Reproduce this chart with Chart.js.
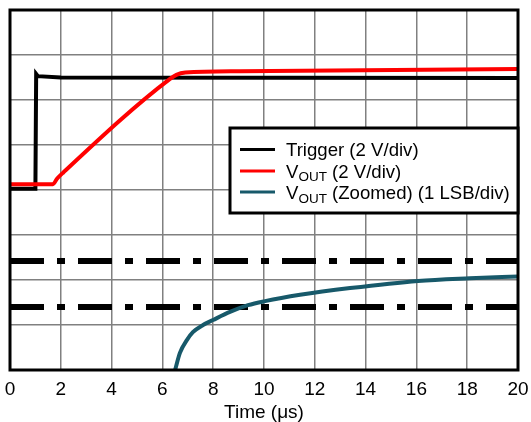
<!DOCTYPE html>
<html>
<head>
<meta charset="utf-8">
<script src="https://cdn.jsdelivr.net/npm/chart.js@4.4.1/dist/chart.umd.min.js"></script>
<style>
  html, body { margin: 0; padding: 0; background: #fff; }
  #wrap { width: 531px; height: 422px; }
</style>
</head>
<body>
<div id="wrap"><canvas id="myChart"></canvas></div>
<script>
// time axis (us) and its tick labels
const xTicks = [0, 2, 4, 6, 8, 10, 12, 14, 16, 18, 20];

// Trigger (2 V/div) - values in divisions from the bottom
const triggerTime = [0, 1.0, 1.03, 1.1, 2.0, 20];
const triggerDiv = [4.03, 4.03, 6.58, 6.53, 6.5, 6.49];

// VOUT (2 V/div)
const voutTime = [0, 1.69, 1.85, 2.1, 6.3, 6.55, 6.9, 9.06, 20];
const voutDiv = [4.13, 4.13, 4.25, 4.39, 6.47, 6.56, 6.61, 6.64, 6.69];

// VOUT zoomed (1 LSB/div)
const zoomTime = [6.5, 6.69, 6.97, 7.2, 7.6, 7.99, 8.66, 9.37, 10.04, 11.42, 13.39, 16.06, 18.1, 20];
const zoomDiv = [0, 0.38, 0.67, 0.84, 1.0, 1.11, 1.29, 1.44, 1.53, 1.67, 1.82, 1.98, 2.04, 2.08];

// dash-dot LSB boundary levels
const limitLevels = [2.42, 1.4];

const legendItems = [
    { main: 'Trigger (2 V/div)', color: '#000000' },
    { main: 'V', sub: 'OUT', rest: ' (2 V/div)', color: '#ff0000' },
    { main: 'V', sub: 'OUT', rest: ' (Zoomed) (1 LSB/div)', color: '#17596a' }
];

const FONT = '"Liberation Sans", Arial, sans-serif';

function pts(xs, ys) {
    return xs.map((x, i) => ({ x: x, y: ys[i] }));
}

const datasets = [
    {
        data: pts(triggerTime, triggerDiv),
        borderColor: '#000000',
        borderWidth: 4,
        order: 3
    },
    {
        data: pts(voutTime, voutDiv),
        borderColor: '#ff0000',
        borderWidth: 4,
        cubicInterpolationMode: 'monotone',
        order: 1
    },
    {
        data: pts(zoomTime, zoomDiv),
        borderColor: '#17596a',
        borderWidth: 4,
        cubicInterpolationMode: 'monotone',
        order: 2
    }
];
limitLevels.forEach(level => {
    datasets.push({
        data: pts([0, 20], [level, level]),
        borderColor: '#000000',
        borderWidth: 6,
        borderDash: [34, 13, 8, 13],
        order: 4
    });
});

const frameAndLegend = {
    id: 'frameAndLegend',
    afterDraw(chart) {
        const ctx = chart.ctx;
        const a = chart.chartArea;
        ctx.save();
        // plot border
        ctx.strokeStyle = '#000';
        ctx.lineWidth = 3;
        ctx.strokeRect(a.left, a.top, a.right - a.left, a.bottom - a.top);

        // legend box
        const bx = 230, by = 128, bw = a.right - 230, bh = 85;
        ctx.fillStyle = '#fff';
        ctx.fillRect(bx, by, bw, bh);
        ctx.lineWidth = 3;
        ctx.strokeRect(bx, by, bw, bh);

        const lineY = [149.5, 171, 192];
        const baseY = [156, 177.5, 199];
        legendItems.forEach((item, i) => {
            ctx.strokeStyle = item.color;
            ctx.lineWidth = 3;
            ctx.beginPath();
            ctx.moveTo(240, lineY[i]);
            ctx.lineTo(275, lineY[i]);
            ctx.stroke();

            ctx.fillStyle = '#000';
            ctx.textBaseline = 'alphabetic';
            ctx.textAlign = 'left';
            let x = 286;
            ctx.font = '18.6px ' + FONT;
            ctx.fillText(item.main, x, baseY[i]);
            x += ctx.measureText(item.main).width;
            if (item.sub) {
                ctx.font = '13.5px ' + FONT;
                ctx.fillText(item.sub, x, baseY[i] + 3.5);
                x += ctx.measureText(item.sub).width;
                ctx.font = '18.6px ' + FONT;
                ctx.fillText(item.rest, x, baseY[i]);
            }
        });
        ctx.restore();
    }
};

function renderChart() {
    const ctx = document.getElementById('myChart');
    new Chart(ctx, {
        type: 'line',
        data: { datasets: datasets },
        options: {
            responsive: true,
            maintainAspectRatio: false,
            animation: false,
            events: [],
            layout: { padding: { left: 10, right: 13, top: 10, bottom: 0 } },
            elements: { point: { radius: 0 }, line: { tension: 0 } },
            plugins: { legend: { display: false }, tooltip: { enabled: false } },
            scales: {
                x: {
                    type: 'linear',
                    min: 0,
                    max: 20,
                    afterBuildTicks: scale => {
                        scale.ticks = xTicks.map(v => ({ value: v }));
                    },
                    afterFit: scale => {
                        scale.height = 52;
                        scale.paddingRight = 0;
                        scale.paddingLeft = 0;
                    },
                    ticks: {
                        color: '#000',
                        padding: 8,
                        maxRotation: 0,
                        font: { family: FONT, size: 19 }
                    },
                    grid: { color: '#808080', lineWidth: 1.5, drawTicks: false },
                    border: { display: false },
                    title: {
                        display: true,
                        text: 'Time (μs)',
                        color: '#000',
                        padding: { top: 0, bottom: -2 },
                        font: { family: FONT, size: 19 }
                    }
                },
                y: {
                    type: 'linear',
                    min: 0,
                    max: 8,
                    ticks: { display: false, stepSize: 1 },
                    afterFit: scale => { scale.width = 0; },
                    grid: { color: '#808080', lineWidth: 1.5, drawTicks: false },
                    border: { display: false }
                }
            }
        },
        plugins: [frameAndLegend]
    });
}
renderChart();
</script>
</body>
</html>
